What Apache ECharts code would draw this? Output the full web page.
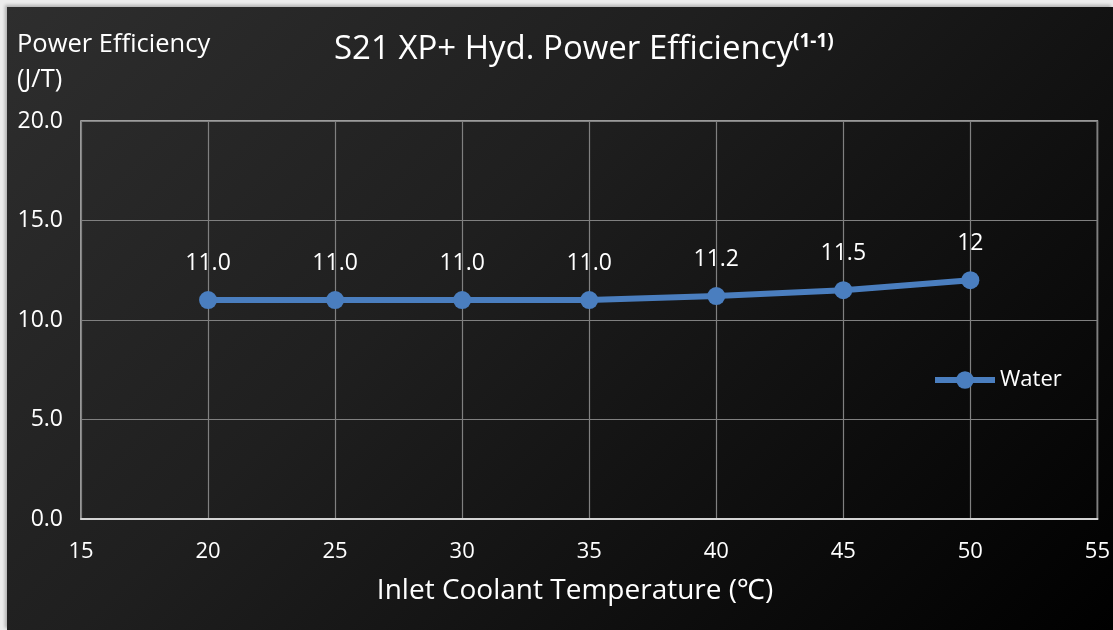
<!DOCTYPE html>
<html>
<head>
<meta charset="utf-8">
<script src="https://cdn.jsdelivr.net/npm/echarts@6/dist/echarts.min.js"></script>
<style>
html,body{margin:0;padding:0;width:1113px;height:630px;overflow:hidden;background:#ececec;}
#bg{position:absolute;left:7px;top:7px;width:1106px;height:623px;background:linear-gradient(135deg,#2e2e2e 0%,#1f1f1f 40%,#000 100%);box-shadow:-2px -2px 3px rgba(0,0,0,0.25);}
#main{position:absolute;left:0;top:0;width:1113px;height:630px;}
</style>
</head>
<body>
<div id="bg"></div>
<div id="main"></div>
<script>
var temperatures = [20, 25, 30, 35, 40, 45, 50];
var waterEfficiency = [11.0, 11.0, 11.0, 11.0, 11.2, 11.5, 12];
var pointLabels = ['11.0', '11.0', '11.0', '11.0', '11.2', '11.5', '12'];
var xTicks = [15, 20, 25, 30, 35, 40, 45, 50, 55];
var yTicks = ['0.0', '5.0', '10.0', '15.0', '20.0'];

var font = '"Open Sans", "Noto Sans", sans-serif';
var chart = echarts.init(document.getElementById('main'), null, {renderer: 'canvas'});
var seriesData = temperatures.map(function (t, i) { return [t, waterEfficiency[i]]; });

chart.setOption({
  backgroundColor: 'transparent',
  animation: false,
  textStyle: {fontFamily: font},
  title: {
    text: 'S21 XP+ Hyd. Power Efficiency{sup|(1-1)}',
    left: 329, top: 27,
    textStyle: {
      color: '#ffffff', fontSize: 33, fontWeight: 'normal', fontFamily: font,
      rich: {sup: {fontSize: 19, fontWeight: 'bold', color: '#ffffff', fontFamily: font, verticalAlign: 'top', padding: [0, 0, 16, 0]}}
    }
  },
  graphic: [
    {type: 'text', style: {x: 17, y: 45, text: 'Power Efficiency', fill: '#ffffff', font: '25.5px ' + font, verticalAlign: 'middle'}},
    {type: 'text', style: {x: 17, y: 80, text: '(J/T)', fill: '#ffffff', font: '25.5px ' + font, verticalAlign: 'middle'}},
    {type: 'text', style: {x: 575, y: 591, text: 'Inlet Coolant Temperature (\u2103)', fill: '#ffffff', font: '28px ' + font, align: 'center', verticalAlign: 'middle'}}
  ],
  legend: {
    data: ['Water'],
    left: 932, top: 369, padding: 0,
    itemWidth: 60, itemHeight: 22, itemGap: 4,
    lineStyle: {width: 6},
    textStyle: {color: '#ffffff', fontSize: 22, fontFamily: font}
  },
  grid: {left: 81, right: 15, top: 121, bottom: 111, show: true, borderColor: '#c4c4c4', borderWidth: 1.5},
  xAxis: {
    type: 'value', min: 15, max: 55, interval: 5,
    axisLine: {show: true, lineStyle: {color: '#d4d4d4', width: 2}},
    axisTick: {show: false},
    axisLabel: {color: '#ffffff', fontSize: 22, margin: 22, fontFamily: font,
      formatter: function (v) { return xTicks.indexOf(v) >= 0 ? String(v) : ''; }},
    splitLine: {show: true, lineStyle: {color: '#808080', width: 1.2}}
  },
  yAxis: {
    type: 'value', min: 0, max: 20, interval: 5,
    axisLine: {show: false},
    axisTick: {show: false},
    axisLabel: {color: '#ffffff', fontSize: 23, margin: 18, fontFamily: font,
      formatter: function (v) { return yTicks[Math.round(v / 5)]; }},
    splitLine: {show: true, lineStyle: {color: '#808080', width: 1.2}}
  },
  series: [{
    name: 'Water', type: 'line', data: seriesData,
    symbol: 'circle', symbolSize: 18,
    lineStyle: {color: '#4a7ebf', width: 6},
    itemStyle: {color: '#4a7ebf'},
    label: {show: true, position: 'top', distance: 16, color: '#ffffff', fontSize: 23, fontFamily: font,
      formatter: function (p) { return pointLabels[p.dataIndex]; }}
  }]
});
</script>
</body>
</html>
